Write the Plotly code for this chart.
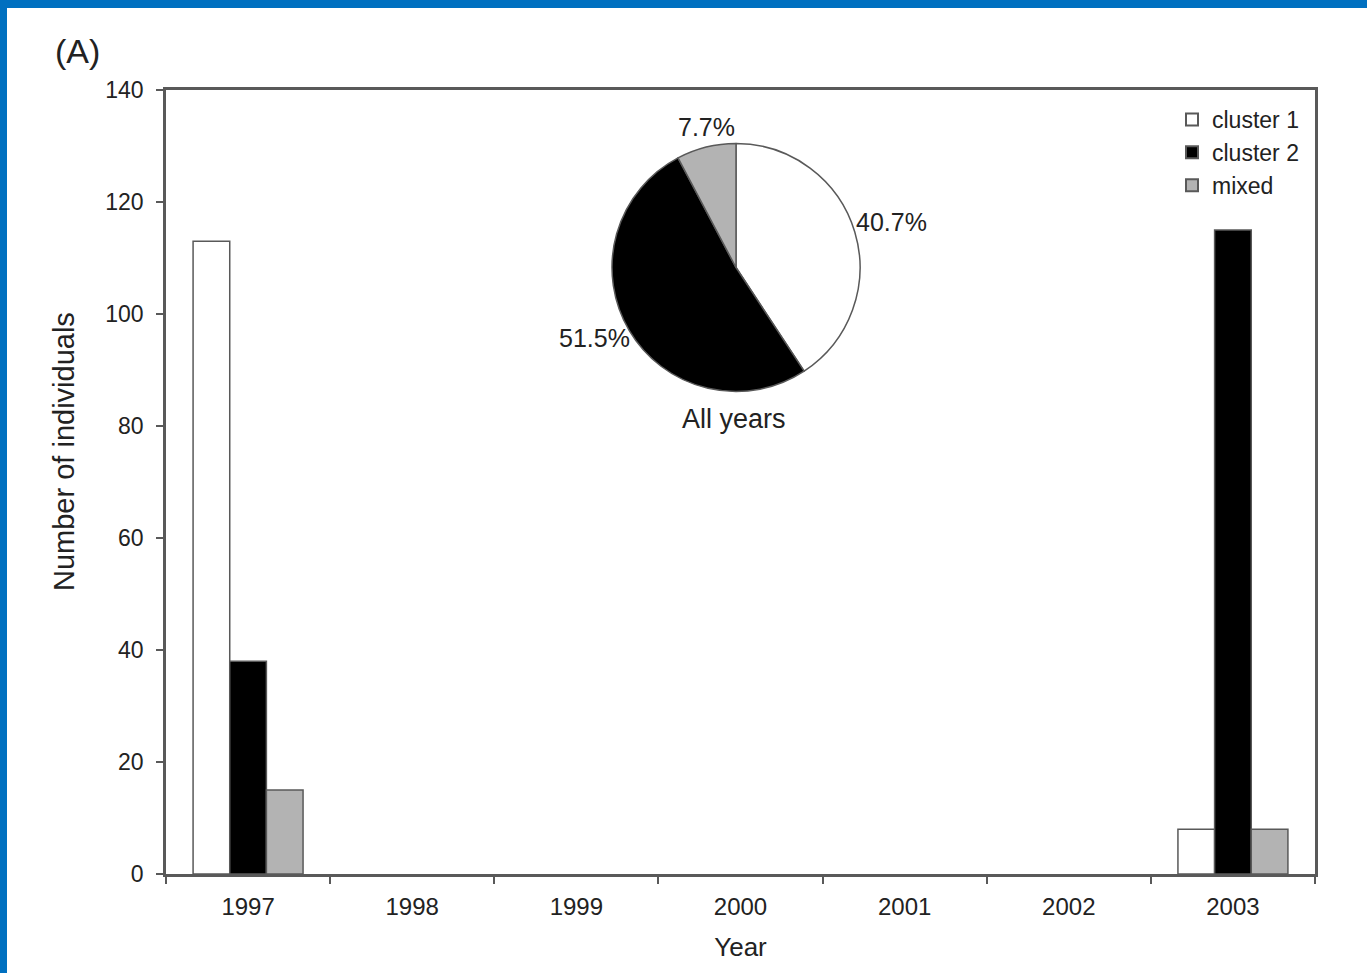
import plotly.graph_objects as go

# Counts of individuals per year and genetic cluster
years = ["1997", "1998", "1999", "2000", "2001", "2002", "2003"]
cluster1 = [113, 0, 0, 0, 0, 0, 8]
cluster2 = [38, 0, 0, 0, 0, 0, 115]
mixed = [15, 0, 0, 0, 0, 0, 8]

series_names = ["cluster 1", "cluster 2", "mixed"]
series_colors = ["#ffffff", "#000000", "#b3b3b3"]
y_ticks = [0, 20, 40, 60, 80, 100, 120, 140]

# Pooled totals across all years for the inset pie
totals = [sum(cluster1), sum(cluster2), sum(mixed)]
grand = sum(totals)
shares = [f"{100 * t / grand:.1f}%" for t in totals]

FONT = "Liberation Sans, Arial, sans-serif"
EDGE = "#595959"
INK = "#222"

# plot area in pixels (left, right, top, bottom)
L, R, T, B = 166, 1315, 90, 874
W, H = R - L, B - T


def px(x, y):
    """Pixel position on the page -> paper coordinates."""
    return (x - L) / W, (B - y) / H


fig = go.Figure()
for name, vals, col in zip(series_names, [cluster1, cluster2, mixed], series_colors):
    # empty years get no bar outline at the baseline
    fig.add_trace(go.Bar(
        x=years, y=[v if v else None for v in vals], name=name,
        marker=dict(color=col, line=dict(color=EDGE, width=1.5)),
    ))

fig.add_trace(go.Pie(
    labels=series_names, values=totals,
    sort=False, direction="clockwise", rotation=0,
    marker=dict(colors=series_colors, line=dict(color=EDGE, width=1.5)),
    textinfo="none",
    domain=dict(x=[(612 - L) / W, (860 - L) / W], y=[(B - 393) / H, (B - 142) / H]),
    showlegend=False, hoverinfo="skip",
))

# slice labels around the pie
label_pos = [(891, 222), (594, 338), (706, 127)]
annotations = []
for txt, (lx, ly) in zip(shares, label_pos):
    ax, ay = px(lx, ly)
    annotations.append(dict(text=txt, xref="paper", yref="paper", x=ax, y=ay,
                            xanchor="center", yanchor="middle", showarrow=False,
                            font=dict(size=25, color=INK)))

ax, ay = px(734, 419)
annotations.append(dict(text="All years", xref="paper", yref="paper", x=ax, y=ay,
                        xanchor="center", yanchor="middle", showarrow=False,
                        font=dict(size=27, color=INK)))
ax, ay = px(77, 51)
annotations.append(dict(text="(A)", xref="paper", yref="paper", x=ax, y=ay,
                        xanchor="center", yanchor="middle", showarrow=False,
                        font=dict(size=34, color=INK)))
# y-axis title
ax, ay = px(64, 452)
annotations.append(dict(text="Number of individuals", xref="paper", yref="paper", x=ax, y=ay,
                        xanchor="center", yanchor="middle", showarrow=False, textangle=-90,
                        font=dict(size=29, color=INK)))

fig.update_layout(
    width=1367, height=973,
    margin=dict(l=L, r=1367 - R, t=T, b=973 - B),
    paper_bgcolor="white", plot_bgcolor="white",
    font=dict(family=FONT, size=24, color=INK),
    barmode="group", bargap=0.33, bargroupgap=0,
    showlegend=True,
    legend=dict(x=px(1172, 0)[0], y=px(0, 98)[1], xanchor="left", yanchor="top",
                bgcolor="rgba(0,0,0,0)", font=dict(size=23),
                itemsizing="constant", tracegroupgap=0),
    xaxis=dict(
        type="category", range=[-0.5, 6.5],
        showline=True, linecolor=EDGE, linewidth=2.5, mirror=True,
        ticks="outside", ticklen=7, tickwidth=1.5, tickcolor=EDGE,
        tickson="boundaries", showgrid=False, ticklabelstandoff=9,
        title=dict(text="Year", font=dict(size=26), standoff=20),
        tickfont=dict(size=24),
    ),
    yaxis=dict(
        range=[0, 140], tickvals=y_ticks,
        showline=True, linecolor=EDGE, linewidth=2.5, mirror=True,
        ticks="outside", ticklen=7, tickwidth=1.5, tickcolor=EDGE,
        showgrid=False, zeroline=False, ticklabelstandoff=8,
        tickfont=dict(size=23),
    ),
    shapes=[
        # blue slide frame along the top and left edges
        dict(type="rect", xref="paper", yref="paper",
             x0=-L / W, x1=1 + (1367 - R) / W, y0=1 + (T - 8) / H, y1=1 + T / H,
             fillcolor="#0070c0", line=dict(width=0), layer="above"),
        dict(type="rect", xref="paper", yref="paper",
             x0=-L / W, x1=-(L - 7) / W, y0=-(973 - B) / H, y1=1 + T / H,
             fillcolor="#0070c0", line=dict(width=0), layer="above"),
    ],
    annotations=annotations,
)

fig.write_html("out.html")
